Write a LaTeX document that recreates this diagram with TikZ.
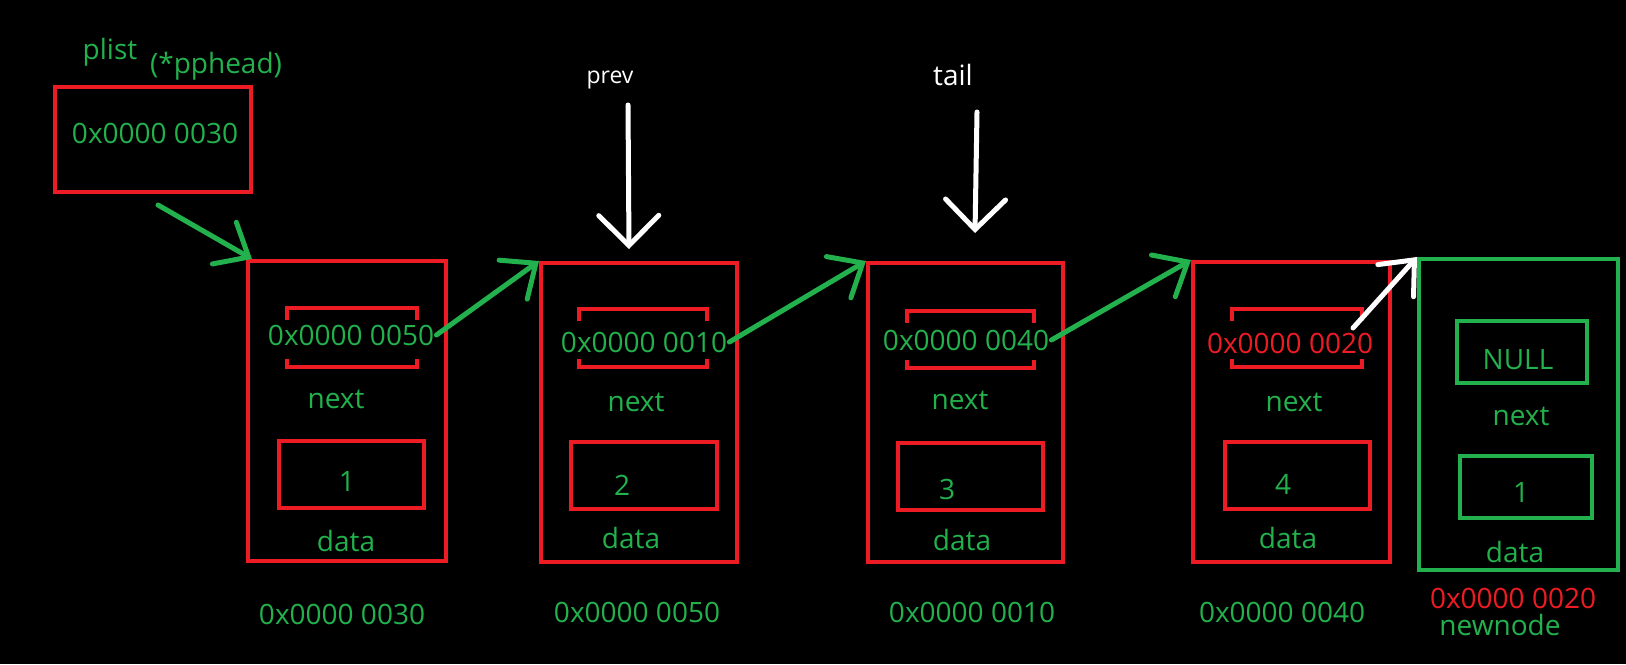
\documentclass[tikz,border=0pt]{standalone}
\usepackage{fontspec}
\setmainfont{Open Sans}
\usetikzlibrary{arrows.meta}
\definecolor{pred}{HTML}{ED1C24}
\definecolor{pgreen}{HTML}{22B14C}
\begin{document}
\begin{tikzpicture}[x=0.5pt,y=-0.5pt,
  every node/.style={font=\fontsize{14pt}{16pt}\selectfont,inner sep=1pt},
  gtxt/.style={text=pgreen},
  rtxt/.style={text=pred},
  wtxt/.style={text=white},
  rbox/.style={draw=pred,line width=2pt,inner sep=0pt},
  gbox/.style={draw=pgreen,line width=2pt,inner sep=0pt},
  slot/.style={draw=none,inner sep=0pt},
  bracket/.style={draw=pred,line width=2pt},
  garrow/.style={draw=pgreen,line width=2.5pt,line cap=round,-{Straight Barb[length=14pt,width=24pt,line cap=round]}},
  warrow/.style={draw=white,line width=2.5pt,line cap=round,-{Straight Barb[length=14pt,width=24pt,line cap=round]}},
  wdown/.style={draw=white,line width=2.5pt,line cap=round,-{Straight Barb[length=15pt,width=30pt,line cap=round]}}
]
\fill[black] (0,0) rectangle (1626,664);

% head pointer
\node[gtxt] (plist) at (110,52) {plist};
\node[gtxt] (pphead) at (216,66) {(*pphead)};
\node[rbox,minimum width=98pt,minimum height=52.5pt] (head) at (153,139.5) {};
\node[gtxt] (headval) at (155,133) {0x0000 0030};

% node boxes
\node[rbox,minimum width=99pt,minimum height=150pt] (n1) at (347,411) {};
\node[rbox,minimum width=98pt,minimum height=149.5pt] (n2) at (639,412.5) {};
\node[rbox,minimum width=97.5pt,minimum height=149.5pt] (n3) at (965.5,412.5) {};
\node[rbox,minimum width=98.5pt,minimum height=150pt] (n4) at (1291.5,412) {};
\node[gbox,minimum width=99.5pt,minimum height=155.5pt] (n5) at (1518.5,414.5) {};

% next slots (brackets)
\node[slot,minimum width=65pt,minimum height=29.5pt] (b1) at (352,337.5) {};
\node[slot,minimum width=64pt,minimum height=29pt] (b2) at (643,338) {};
\node[slot,minimum width=63.5pt,minimum height=28.5pt] (b3) at (970.5,339.5) {};
\node[slot,minimum width=65pt,minimum height=29pt] (b4) at (1297,338) {};
\foreach \b in {b1,b2,b3,b4}{
  \draw[bracket] ([yshift=-6pt]\b.north west) -- (\b.north west) -- (\b.north east) -- ([yshift=-6pt]\b.north east);
  \draw[bracket] ([yshift=4pt]\b.south west) -- (\b.south west) -- (\b.south east) -- ([yshift=4pt]\b.south east);
}
\node[gbox,minimum width=65pt,minimum height=31pt] (null) at (1522,352) {};

% data boxes
\node[rbox,minimum width=72.5pt,minimum height=33.5pt] (d1) at (351.5,474.5) {};
\node[rbox,minimum width=73pt,minimum height=33.5pt] (d2) at (644,475.5) {};
\node[rbox,minimum width=72.5pt,minimum height=33.5pt] (d3) at (970.5,476.5) {};
\node[rbox,minimum width=72.5pt,minimum height=33.5pt] (d4) at (1297.5,475.5) {};
\node[gbox,minimum width=66pt,minimum height=31pt] (d5) at (1526,487) {};

% pointer values
\node[gtxt] (p1) at (351,335) {0x0000 0050};
\node[gtxt] (p2) at (644,342) {0x0000 0010};
\node[gtxt] (p3) at (966,340) {0x0000 0040};
\node[rtxt] (p4) at (1290,343) {0x0000 0020};
\node[gtxt] (nullt) at (1518,360) {NULL};

% labels next
\node[gtxt] (nx1) at (336,399) {next};
\node[gtxt] (nx2) at (636,402) {next};
\node[gtxt] (nx3) at (960,400) {next};
\node[gtxt] (nx4) at (1294,402) {next};
\node[gtxt] (nx5) at (1521,416) {next};

% data values
\node[gtxt] (v1) at (347,481) {1};
\node[gtxt] (v2) at (622,485) {2};
\node[gtxt] (v3) at (947,489) {3};
\node[gtxt] (v4) at (1283,484) {4};
\node[gtxt] (v5) at (1521,492) {1};

% labels data
\node[gtxt] (dl1) at (346,541) {data};
\node[gtxt] (dl2) at (631,538) {data};
\node[gtxt] (dl3) at (962,540) {data};
\node[gtxt] (dl4) at (1288,538) {data};
\node[gtxt] (dl5) at (1515,552) {data};

% addresses
\node[gtxt] (a1) at (342,614) {0x0000 0030};
\node[gtxt] (a2) at (637,612) {0x0000 0050};
\node[gtxt] (a3) at (972,612) {0x0000 0010};
\node[gtxt] (a4) at (1282,612) {0x0000 0040};
\node[rtxt,inner sep=0pt] (a5) at (1513,598) {0x0000 0020};
\node[gtxt,inner sep=0pt] (newnode) at (1500,625) {newnode};

% prev / tail
\node[wtxt,font=\fontsize{11.5pt}{13pt}\selectfont] (prev) at (610,80) {prev};
\node[wtxt] (tail) at (953,75) {tail};
\coordinate (prevs) at (628,105);
\coordinate (preve) at (629,249);
\coordinate (tails) at (977,112);
\coordinate (taile) at (975,233);
\draw[wdown] (prevs) -- (preve);
\draw[wdown] (tails) -- (taile);

% links
\coordinate (s0) at (158,205);
\draw[garrow] (s0) -- ([xshift=3pt]n1.north west);
\draw[garrow] (p1.east) -- (n2.north west);
\draw[garrow] (p2.east) -- (n3.north west);
\draw[garrow] (p3.east) -- (n4.north west);
\coordinate (s4) at (1353,328);
\draw[warrow] (s4) -- (n5.north west);
\end{tikzpicture}
\end{document}
